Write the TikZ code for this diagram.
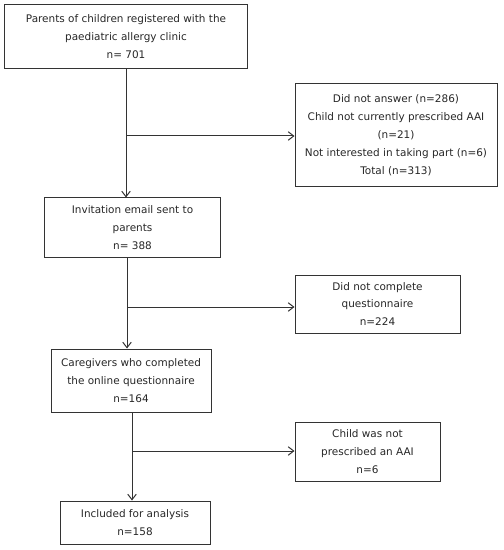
\documentclass[tikz,border=0pt]{standalone}
\usepackage{fontspec}
\setmainfont{DejaVu Sans}
\usetikzlibrary{positioning,arrows.meta}

\begin{document}
\begin{tikzpicture}[x=1bp,y=-1bp,
	flowbox/.style={rectangle, draw=black!80, line width=1bp, align=center, inner sep=0pt,
		font=\fontsize{10.5}{18}\selectfont, text=black!85},
	flowline/.style={draw=black!80, line width=1bp, -{Straight Barb[length=5.5bp,width=8.5bp]}}]
		\useasboundingbox (0,0) rectangle (504,550);
		\node[flowbox, minimum width=242bp, minimum height=64bp] (parents) at (126,37) {Parents of children registered with the\\paediatric allergy clinic\\n= 701};
		\node[flowbox, minimum width=202bp, minimum height=102bp] (noreply) at (396,135) {Did not answer (n=286)\\Child not currently prescribed AAI\\(n=21)\\Not interested in taking part (n=6)\\Total (n=313)};
		\node[flowbox, minimum width=175bp, minimum height=59bp] (invite) at (132.5,227.5) {Invitation email sent to\\parents\\n= 388};
		\node[flowbox, minimum width=165bp, minimum height=58bp] (notdone) at (377.5,304) {Did not complete\\questionnaire\\n=224};
		\node[flowbox, minimum width=160bp, minimum height=63bp] (completed) at (131,380.5) {Caregivers who completed\\the online questionnaire\\n=164};
		\node[flowbox, minimum width=145bp, minimum height=59bp] (noaai) at (367.5,451.5) {Child was not\\prescribed an AAI\\n=6};
		\node[flowbox, minimum width=150bp, minimum height=43bp] (included) at (135,522.5) {Included for analysis\\n=158};
		\coordinate (split1) at (126,136);
		\coordinate (split2) at (127,307);
		\coordinate (split3) at (132,451);
		\draw[flowline] (parents.south) -- (parents.south |- invite.north);
		\draw[flowline] (split1) -- (split1 -| noreply.west);
		\draw[flowline] (split2 |- invite.south) -- (split2 |- completed.north);
		\draw[flowline] (split2) -- (split2 -| notdone.west);
		\draw[flowline] (split3 |- completed.south) -- (split3 |- included.north);
		\draw[flowline] (split3) -- (split3 -| noaai.west);
	\end{tikzpicture}
\end{document}
